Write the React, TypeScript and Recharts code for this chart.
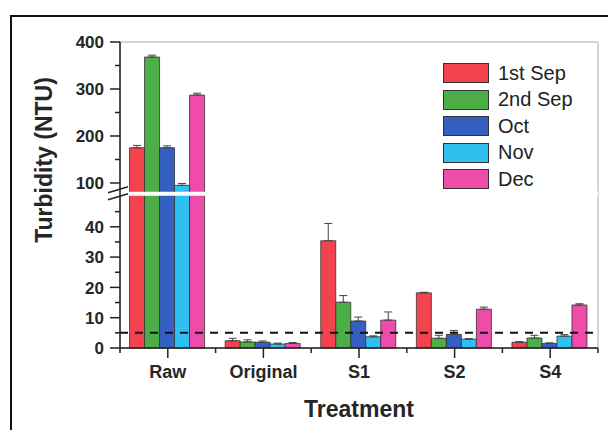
import React from 'react';
import {
  BarChart, Bar, XAxis, YAxis, ErrorBar, ReferenceLine, ReferenceArea, Legend,
} from 'recharts';

// ---------- data ----------
const categories = ['Raw', 'Original', 'S1', 'S2', 'S4'];
const seriesNames = ['1st Sep', '2nd Sep', 'Oct', 'Nov', 'Dec'];
const sep1 = [175, 2.4, 35.4, 18.2, 1.9];
const sep2 = [368, 2.0, 15.1, 3.2, 3.3];
const oct = [175, 1.9, 8.9, 4.5, 1.5];
const nov = [95, 1.3, 3.7, 2.9, 3.9];
const dec = [287, 1.5, 9.2, 12.8, 14.2];
const sep1Err = [5, 0.8, 5.7, 0.2, 0.2];
const sep2Err = [4, 0.7, 2.2, 1.0, 0.9];
const octErr = [4, 0.4, 1.3, 1.3, 0.2];
const novErr = [4, 0.3, 0.3, 0.2, 0.5];
const decErr = [4, 0.3, 2.7, 0.7, 0.4];
const yMajorTicks = [0, 10, 20, 30, 40, 100, 200, 300, 400];
const yMinorTicks = [5, 15, 25, 35, 45, 150, 250, 350];
const limitValue = 5;

// ---------- broken-axis scale ----------
const LOWER_MAX = 50;
const UPPER_MIN = 75;
const UPPER_START = 50.58;
const UPPER_RATIO = 0.1551;
const tf = (v: number) => (v <= LOWER_MAX ? v : UPPER_START + (v - UPPER_MIN) * UPPER_RATIO);
const T_MAX = tf(400);
const BREAK_T = 50.9;

const seriesValues = [sep1, sep2, oct, nov, dec];
const seriesErrs = [sep1Err, sep2Err, octErr, novErr, decErr];
const colors = ['#F3434F', '#4DAE47', '#3560C2', '#30C0F0', '#EE4CA8'];

const data = categories.map((c, i) => {
  const row: any = { name: c };
  seriesValues.forEach((arr, s) => {
    row['s' + s] = tf(arr[i]);
    row['e' + s] = [0, tf(arr[i] + seriesErrs[s][i]) - tf(arr[i])];
  });
  return row;
});

const yTickDefs = [
  ...yMajorTicks.map((v) => ({ v, major: true })),
  ...yMinorTicks.map((v) => ({ v, major: false })),
].sort((a, b) => a.v - b.v);
const yTicksT = yTickDefs.map((d) => tf(d.v));

const FONT = '"Liberation Sans", Arial, Helvetica, sans-serif';
const INK = '#262626';

const YTick = (props: any) => {
  const { x, y, index } = props;
  const def = yTickDefs[index];
  if (!def) return null;
  const len = def.major ? 10 : 5;
  return (
    <g>
      <line x1={x - len} y1={y} x2={x} y2={y} stroke="#222" strokeWidth={1.5} />
      {def.major && (
        <text x={x - 16} y={y} dy="0.36em" textAnchor="end" fontFamily={FONT} fontWeight="bold" fontSize={17} fill={INK}>
          {def.v}
        </text>
      )}
    </g>
  );
};

const XTick = (props: any) => {
  const { x, y, payload, index, width, visibleTicksCount } = props;
  const count = visibleTicksCount || categories.length;
  const half = (typeof width === 'number' && width > 0 ? width : 478) / count / 2;
  return (
    <g>
      <line x1={x} y1={y} x2={x} y2={y + 10} stroke="#222" strokeWidth={1.5} />
      <line x1={x - half} y1={y} x2={x - half} y2={y + 5} stroke="#222" strokeWidth={1.5} />
      {index === count - 1 && (
        <line x1={x + half} y1={y} x2={x + half} y2={y + 5} stroke="#222" strokeWidth={1.5} />
      )}
      <text x={x} y={y + 30} textAnchor="middle" fontFamily={FONT} fontWeight="bold" fontSize={18} fill={INK}>
        {payload.value}
      </text>
    </g>
  );
};

const BreakShape = (props: any) => {
  const { x1, y1, x2 } = props;
  return (
    <g>
      <line x1={x1 - 1} y1={y1} x2={x2} y2={y1} stroke="#fff" strokeWidth={4} />
      <line x1={x1 - 12} y1={y1 - 1} x2={x1 + 8} y2={y1 - 7} stroke="#222" strokeWidth={1.5} />
      <line x1={x1 - 12} y1={y1 + 6} x2={x1 + 8} y2={y1} stroke="#222" strokeWidth={1.5} />
    </g>
  );
};

const LegendContent = (props: any) => {
  const payload = [...(props.payload || [])].sort(
    (a: any, b: any) => seriesNames.indexOf(a.value) - seriesNames.indexOf(b.value),
  );
  return (
    <div style={{ fontFamily: FONT }}>
      {payload.map((p: any, i: number) => (
        <div key={i} style={{ display: 'flex', alignItems: 'center', height: 26.5 }}>
          <div style={{ width: 44, height: 18, background: p.color, border: '1px solid #333', marginRight: 9 }} />
          <span style={{ fontSize: 20, color: '#222' }}>{p.value}</span>
        </div>
      ))}
    </div>
  );
};

const XLabel = (props: any) => {
  const vb = props.viewBox || {};
  return (
    <text x={vb.x + vb.width / 2} y={vb.y + 69} textAnchor="middle" fontFamily={FONT} fontWeight="bold" fontSize={23} fill={INK}>
      Treatment
    </text>
  );
};

const YLabel = () => (
  <text x={44} y={160} transform="rotate(-90 44 160)" textAnchor="middle" dominantBaseline="central" fontFamily={FONT} fontWeight="bold" fontSize={23} fill={INK}>
    Turbidity (NTU)
  </text>
);

export default function App() {
  return (
    <div style={{ position: 'absolute', left: 0, top: 0, width: 608, height: 430, overflow: 'hidden', background: '#fff' }}>
      <div style={{ position: 'absolute', left: 10, top: 15, width: 620, height: 440, border: '2px solid #111', boxSizing: 'border-box' }} />
      <div style={{ position: 'absolute', left: 0, top: 0 }}>
        <BarChart
          width={608}
          height={430}
          data={data}
          margin={{ top: 42, right: 10, bottom: 2, left: 60 }}
          barCategoryGap="10%"
          barGap={0}
        >
          <ReferenceArea y1={0} y2={T_MAX} fill="none" stroke="#aaa" strokeWidth={1} ifOverflow="extendDomain" />
          <XAxis
            dataKey="name"
            height={80}
            axisLine={{ stroke: '#222', strokeWidth: 1.5 }}
            tickLine={false}
            tickSize={0}
            tickMargin={0}
            tick={<XTick />}
            interval={0}
            label={<XLabel />}
          />
          <YAxis
            type="number"
            domain={[0, T_MAX]}
            ticks={yTicksT}
            interval={0}
            width={60}
            axisLine={{ stroke: '#222', strokeWidth: 1.5 }}
            tickLine={false}
            tickSize={0}
            tickMargin={0}
            tick={<YTick />}
            label={<YLabel />}
          />
          {seriesNames.map((n, s) => (
            <Bar key={n} dataKey={'s' + s} name={n} fill={colors[s]} stroke="#333" strokeWidth={0.8} isAnimationActive={false}>
              <ErrorBar dataKey={'e' + s} width={4} stroke="#444" strokeWidth={1} direction="y" />
            </Bar>
          ))}
          <ReferenceLine y={limitValue} stroke="#111" strokeWidth={2} strokeDasharray="8 7" />
          <ReferenceLine y={BREAK_T} shape={<BreakShape />} />
          <Legend
            layout="horizontal"
            verticalAlign="middle"
            align="center"
            content={<LegendContent />}
            wrapperStyle={{ top: 60, left: 443, width: 'auto', height: 'auto' }}
          />
        </BarChart>
      </div>
    </div>
  );
}
